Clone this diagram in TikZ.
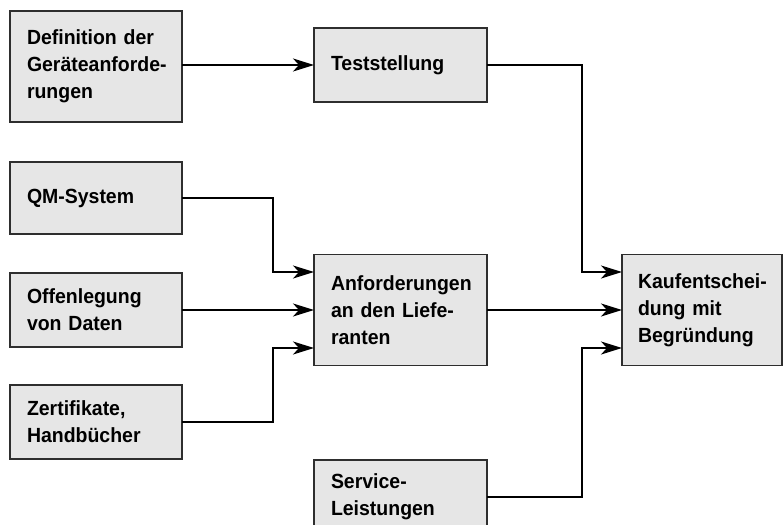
\documentclass[tikz,border=0pt]{standalone}
\usepackage{fontspec}
\setmainfont[FakeStretch=0.95]{Liberation Sans}
\usetikzlibrary{arrows.meta}
\definecolor{boxfill}{HTML}{E6E6E6}
\definecolor{boxline}{HTML}{2E2E2E}
\newcommand\boxfont{\bfseries\fontsize{20.5}{27}\selectfont\exhyphenpenalty=10000\relax\hyphenpenalty=10000\relax}
\tikzset{
  box/.style={draw=boxline, fill=boxfill, line width=1.5pt, outer sep=0pt,
    inner xsep=17pt, inner ysep=0pt, align=left, anchor=center,
    font=\boxfont},
  wide/.style={box, text width=138pt, minimum height=#1},
  mid/.style={box, text width=139pt, minimum height=#1},
  narrow/.style={box, inner xsep=16pt, text width=128pt, minimum height=#1},
  conn/.style={line width=2pt, -{Stealth[length=21pt,width=13pt,inset=6pt]}}
}
\begin{document}
\begin{tikzpicture}[x=1pt,y=-1pt]
\clip (0,0) rectangle (783,524);
\fill[white] (0,0) rectangle (783,524);
% boxes
\node[wide=111pt] (def) at (96,66.5) {Definition der\\Geräteanforde-\\rungen};
\node[wide=72pt] (qm) at (96,198) {QM-System};
\node[wide=74pt] (off) at (96,310) {Offenlegung\\von Daten};
\node[wide=74pt] (zert) at (96,422) {Zertifikate,\\Handbücher};
\node[mid=74pt] (test) at (400.5,65) {Teststellung};
\node[mid=111pt] (anf) at (400.5,310) {Anforderungen\\an den Liefe-\\ranten};
\node[mid=74pt] (serv) at (400.5,497) {Service-\\Leistungen};
\node[narrow=111pt] (kauf) at (702,310) {Kaufentschei-\\dung mit\\Begründung};
% junction columns
\coordinate (jl) at (273,0);
\coordinate (jr) at (582,0);
% connectors
\draw[conn] (def.east |- test.west) -- (test.west);
\draw[conn] (qm.east) -- (jl |- qm.east) |- ([yshift=38pt]anf.west);
\draw[conn] (off.east) -- (anf.west);
\draw[conn] (zert.east) -- (jl |- zert.east) |- ([yshift=-38pt]anf.west);
\draw[conn] (test.east) -- (jr |- test.east) |- ([yshift=38pt]kauf.west);
\draw[conn] (anf.east) -- (kauf.west);
\draw[conn] (serv.east) -- (jr |- serv.east) |- ([yshift=-38pt]kauf.west);
\end{tikzpicture}
\end{document}
